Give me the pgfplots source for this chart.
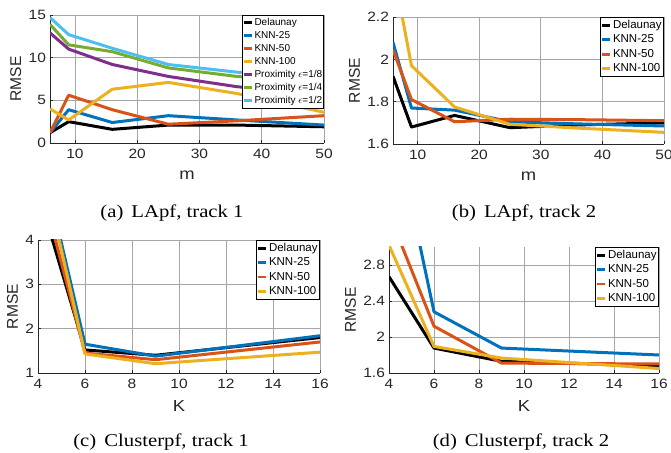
\documentclass[border=0pt]{standalone}
\usepackage{fontspec}
\setmainfont{Liberation Sans}
\newfontfamily\capfont{Liberation Serif}
\usepackage{graphicx}
\usepackage{pgfplots}
\pgfplotsset{compat=1.18}

\definecolor{mblue}{rgb}{0,0.447,0.741}
\definecolor{mred}{rgb}{0.85,0.325,0.098}
\definecolor{myellow}{rgb}{0.929,0.694,0.125}
\definecolor{mpurple}{rgb}{0.494,0.184,0.556}
\definecolor{mgreen}{rgb}{0.466,0.674,0.188}
\definecolor{mcyan}{rgb}{0.301,0.745,0.933}

\pgfplotsset{
  rmse/.style={
    scale only axis,
    axis x line=bottom, axis y line=left,
    axis line style={black!85, line width=0.8pt, -},
    grid=major, grid style={black!35, line width=0.7pt},
    tick align=inside, major tick length=3pt, tick style={black!85, line width=0.7pt},
    ticklabel style={font=\fontsize{13.5}{13.5}\selectfont, text=black!85, xscale=1.15},
    xticklabel style={yshift=-3pt},
    xlabel style={font=\fontsize{16}{16}\selectfont, text=black!85, xscale=1.15, yshift=-5pt},
    ylabel style={font=\fontsize{15.6}{15.6}\selectfont, text=black!85},
    /pgf/number format/assume math mode=true,
    ylabel={RMSE},
    legend cell align=left,
    legend style={at={(1,1)}, anchor=north east, draw=black, line width=0.6pt,
      fill=white, inner sep=0.8pt, font=\fontsize{11.5}{11.5}\selectfont,
      nodes={inner sep=1.3pt, text height=9pt, text depth=2.8pt}},
    legend image code/.code={\draw[##1, line width=2.8pt] (0pt,0pt) -- (8pt,0pt);},
    every axis plot/.append style={line width=3pt, line join=round},
  }
}

\begin{document}
\begin{tikzpicture}
\useasboundingbox (0,0) rectangle (671pt,452pt);

% (a) LApf, track 1
\begin{axis}[rmse, at={(50pt,309pt)}, anchor=south west,
  width=274pt, height=128pt,
  xmin=6, xmax=50, ymin=0, ymax=15,
  xtick={10,20,30,40,50}, ytick={0,5,10,15},
  xlabel={m},
  legend style={font=\fontsize{10}{10}\selectfont,
    nodes={inner sep=0.7pt, text height=9pt, text depth=2.6pt}}]
\addplot[black] coordinates {(6,1.2) (9,2.5) (16,1.6) (25,2.1) (36,2.1) (50,1.9)};
\addplot[mblue] coordinates {(6,1.2) (9,3.9) (16,2.4) (25,3.2) (36,2.7) (50,2.1)};
\addplot[mred] coordinates {(6,1.2) (9,5.6) (16,3.9) (25,2.2) (36,2.6) (50,3.2)};
\addplot[myellow] coordinates {(6,4.0) (9,2.7) (16,6.3) (25,7.1) (36,5.8) (50,3.6)};
\addplot[mpurple] coordinates {(6,12.9) (9,11.0) (16,9.2) (25,7.8) (36,6.6) (50,5.6)};
\addplot[mgreen] coordinates {(6,13.9) (9,11.5) (16,10.7) (25,8.8) (36,7.8) (50,7.0)};
\addplot[mcyan] coordinates {(6,14.7) (9,12.7) (16,11.1) (25,9.2) (36,8.3) (50,7.6)};
\legend{Delaunay, KNN-25, KNN-50, KNN-100,
  Proximity $\epsilon$=1/8, Proximity $\epsilon$=1/4, Proximity $\epsilon$=1/2}
\end{axis}

% (b) LApf, track 2
\begin{axis}[rmse, at={(393pt,308pt)}, anchor=south west,
  width=271pt, height=127pt,
  xmin=6, xmax=50, ymin=1.6, ymax=2.2,
  xtick={10,20,30,40,50}, ytick={1.6,1.8,2,2.2},
  xlabel={m}]
\addplot[black] coordinates {(6,1.92) (9,1.68) (16,1.735) (25,1.677) (36,1.69) (50,1.70)};
\addplot[mblue] coordinates {(6,2.08) (9,1.77) (16,1.76) (25,1.705) (36,1.695) (50,1.685)};
\addplot[mred] coordinates {(6,2.045) (9,1.81) (16,1.705) (25,1.717) (36,1.715) (50,1.71)};
\addplot[myellow] coordinates {(6,2.43) (9,1.97) (16,1.775) (25,1.693) (36,1.675) (50,1.655)};
\legend{Delaunay, KNN-25, KNN-50, KNN-100}
\end{axis}

% (c) Clusterpf, track 1
\begin{axis}[rmse, at={(38pt,79pt)}, anchor=south west,
  width=282pt, height=133pt,
  xmin=4, xmax=16, ymin=1, ymax=4,
  xtick={4,6,...,16}, ytick={1,2,3,4},
  xlabel={K}]
\addplot[black] coordinates {(4,5.1) (6,1.52) (9,1.40) (16,1.80)};
\addplot[mblue] coordinates {(4,6.2) (6,1.65) (9,1.38) (16,1.84)};
\addplot[mred] coordinates {(4,5.5) (6,1.45) (9,1.30) (16,1.70)};
\addplot[myellow] coordinates {(4,6.1) (6,1.43) (9,1.21) (16,1.47)};
\legend{Delaunay, KNN-25, KNN-50, KNN-100}
\end{axis}

% (d) Clusterpf, track 2
\begin{axis}[rmse, at={(389pt,79pt)}, anchor=south west,
  width=270pt, height=126pt,
  xmin=4, xmax=16, ymin=1.6, ymax=3.0,
  xtick={4,6,...,16}, ytick={1.6,2,2.4,2.8},
  xlabel={K}]
\addplot[black] coordinates {(4,2.67) (6,1.877) (9,1.73) (16,1.68)};
\addplot[mblue] coordinates {(4,4.64) (6,2.28) (9,1.877) (16,1.80)};
\addplot[mred] coordinates {(4,3.37) (6,2.12) (9,1.71) (16,1.70)};
\addplot[myellow] coordinates {(4,3.02) (6,1.895) (9,1.766) (16,1.65)};
\legend{Delaunay, KNN-25, KNN-50, KNN-100}
\end{axis}

% sub-captions
\begin{scope}[every node/.style={font=\capfont\fontsize{18}{18}\selectfont, anchor=base, xscale=1.15}]
\node at (172pt,234.5pt) {(a)\hskip7pt LApf, track 1};
\node at (524pt,234.5pt) {(b)\hskip7pt LApf, track 2};
\node at (161pt,6pt) {(c)\hskip7pt Clusterpf, track 1};
\node at (521pt,6pt) {(d)\hskip7pt Clusterpf, track 2};
\end{scope}
\end{tikzpicture}
\end{document}
